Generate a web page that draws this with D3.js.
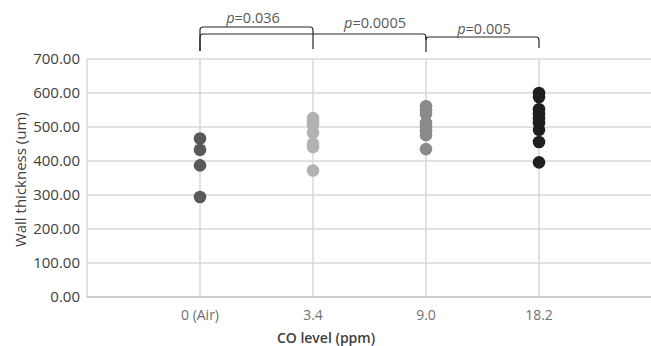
<!DOCTYPE html>
<html>
<head>
<meta charset="utf-8">
<script src="https://cdn.jsdelivr.net/npm/d3@7"></script>
<style>
  body { margin: 0; background: #fff; }
  svg { display: block; }
</style>
</head>
<body>
<div id="chart"></div>
<script>
// categories and readings
var groups = ["0 (Air)", "3.4", "9.0", "18.2"]
var colors = ["#595959", "#b2b2b2", "#8a8a8a", "#1f1f1f"]
var air = [466, 433, 387, 294]
var co34 = [526, 516, 506, 483, 451, 441, 372]
var co90 = [561, 549, 538, 512, 500, 490, 476, 435]
var co182 = [600, 588, 552, 540, 526, 512, 492, 456, 396]
var yTicks = [0, 100, 200, 300, 400, 500, 600, 700]

// significance brackets: [from group, to group, label]
var pFrom = [0, 0, 2]
var pTo = [1, 2, 3]
var pLabels = ["0.036", "0.0005", "0.005"]

var series = [air, co34, co90, co182]

var width = 651,
    height = 346

var svg = d3.select("#chart")
            .append("svg")
            .attr("width", width)
            .attr("height", height)

var x = d3.scaleLinear()
          .domain([0, 5])
          .range([87, 652])

var y = d3.scaleLinear()
          .domain([0, 700])
          .range([297, 59])

var font = "'Open Sans', 'DejaVu Sans', sans-serif"

// horizontal gridlines
svg.append("g")
   .selectAll("line")
   .data(yTicks.filter(function(d){ return d > 0 }))
   .enter().append("line")
   .attr("x1", x(0))
   .attr("x2", width)
   .attr("y1", function(d){ return y(d) })
   .attr("y2", function(d){ return y(d) })
   .attr("stroke", "#d9d9d9")
   .attr("stroke-width", 1.5)

// vertical gridlines at each group
svg.append("g")
   .selectAll("line")
   .data(groups)
   .enter().append("line")
   .attr("x1", function(d, i){ return x(i + 1) })
   .attr("x2", function(d, i){ return x(i + 1) })
   .attr("y1", y(700))
   .attr("y2", y(0))
   .attr("stroke", "#d9d9d9")
   .attr("stroke-width", 1.5)

// left axis line
svg.append("line")
   .attr("x1", x(0)).attr("x2", x(0))
   .attr("y1", y(700)).attr("y2", y(0))
   .attr("stroke", "#d9d9d9")
   .attr("stroke-width", 1.5)

// bottom axis line
svg.append("line")
   .attr("x1", x(0)).attr("x2", width)
   .attr("y1", y(0)).attr("y2", y(0))
   .attr("stroke", "#bfbfbf")
   .attr("stroke-width", 1.5)

// y tick labels
svg.append("g")
   .selectAll("text")
   .data(yTicks)
   .enter().append("text")
   .attr("x", 80)
   .attr("y", function(d){ return y(d) })
   .attr("dy", "0.35em")
   .attr("text-anchor", "end")
   .attr("font-family", font)
   .attr("font-size", "15px")
   .attr("fill", "#404040")
   .text(function(d){ return d3.format(".2f")(d) })

// x tick labels
svg.append("g")
   .selectAll("text")
   .data(groups)
   .enter().append("text")
   .attr("x", function(d, i){ return x(i + 1) })
   .attr("y", 320)
   .attr("text-anchor", "middle")
   .attr("font-family", font)
   .attr("font-size", "14px")
   .attr("fill", "#707070")
   .text(function(d){ return d })

// axis titles
svg.append("text")
   .attr("x", 326)
   .attr("y", 343)
   .attr("text-anchor", "middle")
   .attr("font-family", font)
   .attr("font-size", "14px")
   .attr("font-weight", 600)
   .attr("fill", "#404040")
   .text("CO level (ppm)")

svg.append("text")
   .attr("transform", "translate(26," + y(345) + ") rotate(-90)")
   .attr("text-anchor", "middle")
   .attr("font-family", font)
   .attr("font-size", "15px")
   .attr("fill", "#404040")
   .text("Wall thickness (um)")

// points
series.forEach(function(vals, i) {
    svg.append("g")
       .selectAll("circle")
       .data(vals)
       .enter().append("circle")
       .attr("cx", x(i + 1))
       .attr("cy", function(d){ return y(d) })
       .attr("r", 6.3)
       .attr("fill", colors[i])
})

// brackets
var bracketTop = [27, 34, 37]
var legLeft = [51, 51, 37]
var legRight = [49, 52, 48]
var labelX = [253, 375, 484]
var labelY = [23, 28, 34]

function bracket(x1, x2, top, b1, b2) {
    var r = 3
    var p = d3.path()
    p.moveTo(x1, b1)
    p.lineTo(x1, top + r)
    p.quadraticCurveTo(x1, top, x1 + r, top)
    p.lineTo(x2 - r, top)
    p.quadraticCurveTo(x2, top, x2, top + r)
    p.lineTo(x2, b2)
    return p.toString()
}

pLabels.forEach(function(lab, k) {
    svg.append("path")
       .attr("d", bracket(x(pFrom[k] + 1), x(pTo[k] + 1), bracketTop[k], legLeft[k], legRight[k]))
       .attr("fill", "none")
       .attr("stroke", "#262626")
       .attr("stroke-width", 1.2)

    var t = svg.append("text")
       .attr("x", labelX[k])
       .attr("y", labelY[k])
       .attr("text-anchor", "middle")
       .attr("font-family", font)
       .attr("font-size", "14.5px")
       .attr("fill", "#595959")
    t.append("tspan").attr("font-style", "italic").text("p")
    t.append("tspan").text("=" + lab)
})
</script>
</body>
</html>
